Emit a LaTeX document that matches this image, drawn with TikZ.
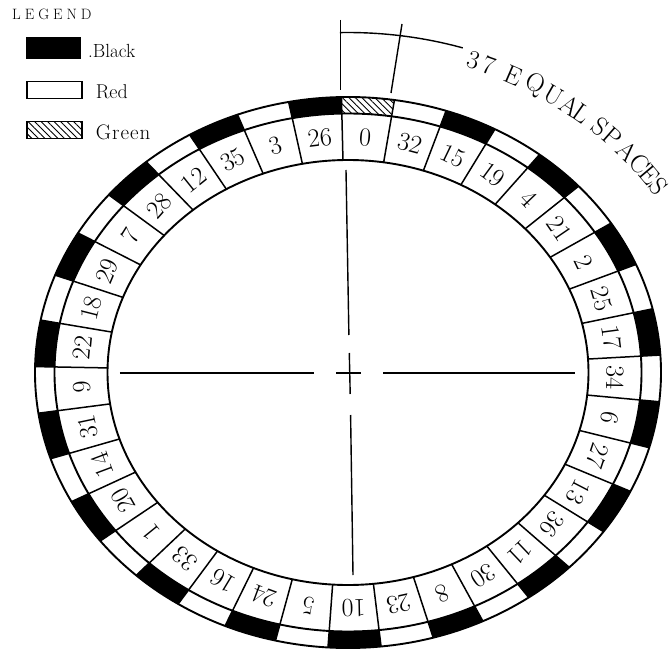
\documentclass[tikz,border=0pt]{standalone}
\usepackage{fontspec}
\usetikzlibrary{patterns.meta}
\tikzset{
  ring/.style={line width=1.9pt},
  div/.style={line width=1.5pt},
  numtext/.style={font=\fontsize{26}{26}\selectfont, inner sep=0pt},
  arctext/.style={font=\fontsize{26}{26}\selectfont, inner sep=0pt},
  legtext/.style={inner sep=0pt, anchor=base west},
  legbox/.style={draw, line width=1.5pt, inner sep=0pt},
  hatch/.style={pattern={Lines[angle=-45,distance=4.6pt,line width=1pt]}},
  cline/.style={line width=1.4pt},
}
\begin{document}
\begin{tikzpicture}[x=1pt,y=1pt]
\useasboundingbox (-348,-280.5) rectangle (323,372.5);

% ---- segments, divisions and numbers ----
\foreach \n/\col [count=\j from 0] in {0/white,32/white,15/black,19/white,4/black,21/white,2/black,25/white,17/black,34/white,6/black,27/white,13/black,36/white,11/black,30/white,8/black,23/white,10/black,5/white,24/black,16/white,33/black,1/white,20/black,14/white,31/black,9/white,22/black,18/white,29/black,7/white,28/black,12/white,35/black,3/white,26/black} {
  \pgfmathsetmacro\ts{91.2-\j*360/37}
  \pgfmathsetmacro\te{91.2-(\j+1)*360/37}
  \pgfmathsetmacro\tm{91.2-(\j+0.5)*360/37}
  \path[fill=\col] ({313*cos(\ts)},{275.5*sin(\ts)})
      arc[start angle=\ts,end angle=\te,x radius=313pt,y radius=275.5pt]
      -- ({293.5*cos(\te)},{259*sin(\te)})
      arc[start angle=\te,end angle=\ts,x radius=293.5pt,y radius=259pt] -- cycle;
  \draw[div] ({240.5*cos(\ts)},{212.5*sin(\ts)}) -- ({313*cos(\ts)},{275.5*sin(\ts)});
  \pgfmathsetmacro\rot{atan2(235.75*sin(\tm),267*cos(\tm))-90}
  \node[numtext, rotate=\rot] (p\j) at ({267*cos(\tm)},{235.75*sin(\tm)}) {\n};
}
% green pocket (0)
\path[hatch] ({313*cos(91.2)},{275.5*sin(91.2)})
    arc[start angle=91.2,end angle=81.4703,x radius=313pt,y radius=275.5pt]
    -- ({293.5*cos(81.4703)},{259*sin(81.4703)})
    arc[start angle=81.4703,end angle=91.2,x radius=293.5pt,y radius=259pt] -- cycle;

% ---- ellipses ----
\draw[ring] (0,0) ellipse[x radius=313pt,y radius=275.5pt];
\draw[ring] (0,0) ellipse[x radius=293.5pt,y radius=259pt];
\draw[ring] (0,0) ellipse[x radius=240.5pt,y radius=212.5pt];

% ---- centre lines ----
\coordinate (vt1) at (-2,202.5);  \coordinate (vt2) at (0.9,37.5);
\coordinate (vc1) at (1.3,19.5);  \coordinate (vc2) at (2.2,-21.5);
\coordinate (vb1) at (2.6,-42.5); \coordinate (vb2) at (5,-202.5);
\coordinate (hl1) at (-228,-0.5); \coordinate (hl2) at (-34,-0.5);
\coordinate (hc1) at (-12,-0.5);  \coordinate (hc2) at (13,-0.5);
\coordinate (hr1) at (35,-0.5);   \coordinate (hr2) at (227,-0.5);
\draw[cline] (vt1) -- (vt2);
\draw[cline] (vc1) -- (vc2);
\draw[cline] (vb1) -- (vb2);
\draw[cline] (hl1) -- (hl2);
\draw[cline] (hc1) -- (hc2);
\draw[cline] (hr1) -- (hr2);

% ---- dimension: 37 equal spaces ----
\coordinate (d1) at (-7.5,352.5); \coordinate (d2) at (-7.5,282.5);
\coordinate (r1) at (43,279.5);   \coordinate (r2) at (54,348.5);
\draw[cline] (d1) -- (d2);
\draw[cline] (r1) -- (r2);
\coordinate (a0) at ({386*cos(91.2)},{340*sin(91.2)});
\draw[cline] (a0) arc[start angle=91.2,end angle=72.7,x radius=386pt,y radius=340pt];
\foreach \ch/\t [count=\k] in {3/70.4,7/68.0,E/63.8,Q/60.2,U/56.9,A/53.8,L/51.5,S/47.9,P/45.2,A/42.0,C/39.0,E/36.6,S/34.3} {
  \pgfmathsetmacro\rr{atan2(-333*cos(\t),378*sin(\t))}
  \node[arctext, rotate=\rr] (c\k) at ({376*cos(\t)},{331*sin(\t)}) {\ch};
}

% ---- legend ----
\node[legtext, font=\fontsize{15}{15}\selectfont] (leg) at (-336,352.5) {L\kern4pt E\kern4pt G\kern4pt E\kern4pt N\kern4pt D};
\node[legbox, fill=black, minimum width=53pt, minimum height=21pt] (kb) at (-294.5,324.5) {};
\node[legbox, fill=white, minimum width=55pt, minimum height=17pt] (kr) at (-293.5,282.5) {};
\node[legbox, hatch, minimum width=55pt, minimum height=17pt] (kg) at (-293.5,242.5) {};
\node[legtext, font=\fontsize{19}{19}\selectfont] (tb) at (-260,315.2) {.Black};
\node[legtext, font=\fontsize{20}{20}\selectfont] (tr) at (-252.3,273.5) {Red};
\node[legtext, font=\fontsize{21}{21}\selectfont] (tg) at (-252.3,233.2) {G\kern1pt r\kern1pt e\kern1pt e\kern1pt n};
\end{tikzpicture}
\end{document}
